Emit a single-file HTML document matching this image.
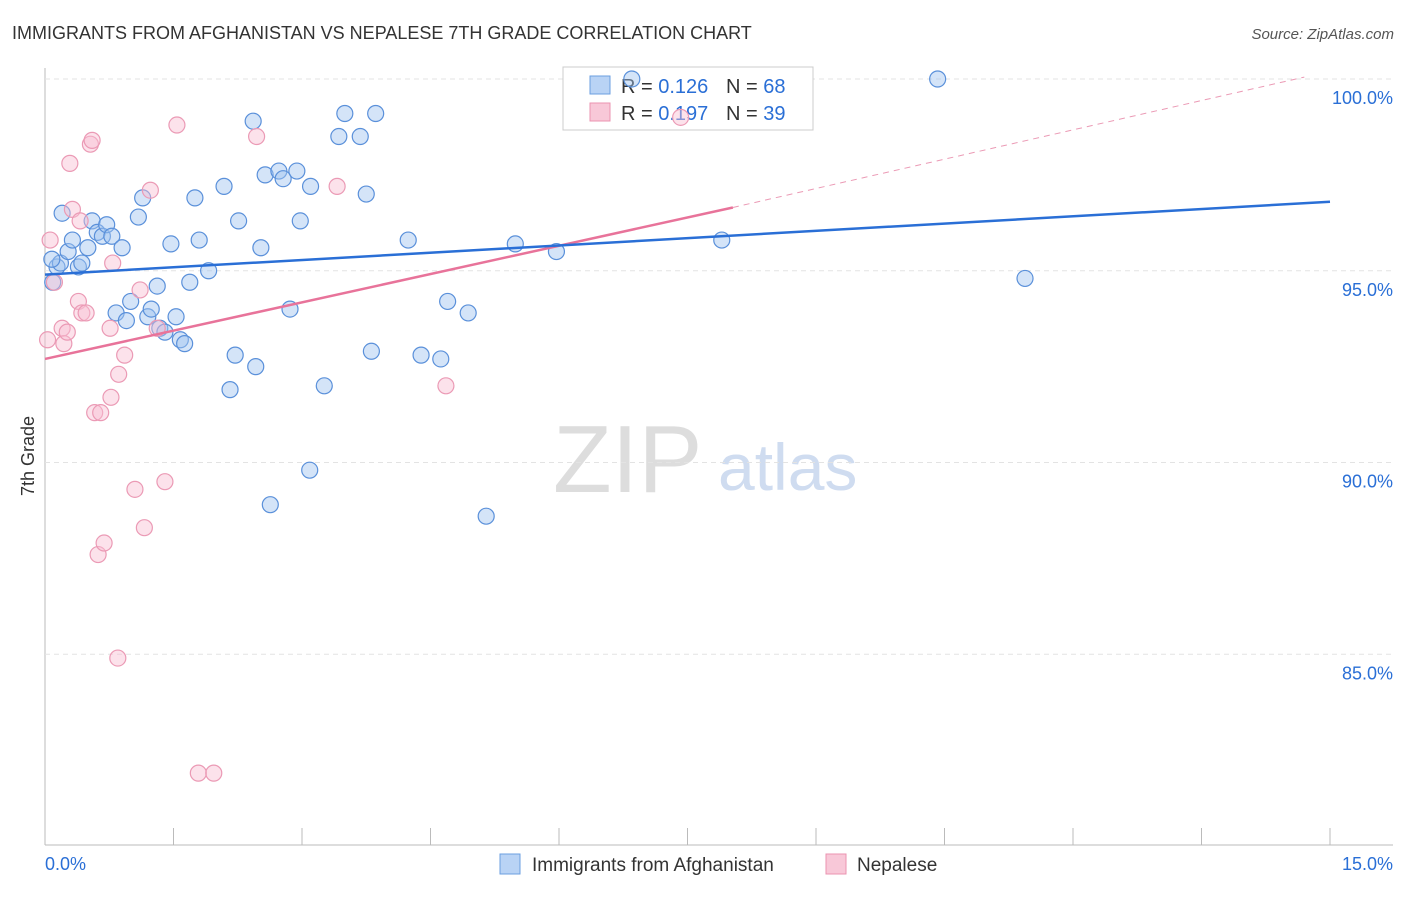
<!DOCTYPE html>
<html><head><meta charset="utf-8"><style>
body{margin:0;background:#fff;font-family:"Liberation Sans",sans-serif}
svg text{font-family:"Liberation Sans",sans-serif}
</style></head><body>
<svg id="c" width="1406" height="892">
<text x="12" y="39" font-size="18" fill="#333">IMMIGRANTS FROM AFGHANISTAN VS NEPALESE 7TH GRADE CORRELATION CHART</text>
<text x="1394" y="39" font-size="15" fill="#555" font-style="italic" text-anchor="end">Source: ZipAtlas.com</text>
<text x="553" y="492" font-size="96" fill="#ddd" font-family="Liberation Serif">ZIP</text>
<text x="718" y="490" font-size="66" fill="#cfdcf0">atlas</text>
<text x="34" y="456" font-size="18" fill="#333" transform="rotate(-90 34 456)" text-anchor="middle">7th Grade</text>
<g id="grid"></g>
<g>
<rect x="563" y="67" width="250" height="63" fill="#fff" stroke="#ccc"/>
<rect x="590" y="76" width="20" height="18" fill="#b9d3f5" stroke="#6b9fe0"/>
<rect x="590" y="103" width="20" height="18" fill="#f8c8d8" stroke="#eb93b0"/>
<text x="621" y="93" font-size="20" fill="#333">R = <tspan fill="#2a6fd6">0.126</tspan></text>
<text x="726" y="93" font-size="20" fill="#333">N = <tspan fill="#2a6fd6">68</tspan></text>
<text x="621" y="120" font-size="20" fill="#333">R = <tspan fill="#2a6fd6">0.197</tspan></text>
<text x="726" y="120" font-size="20" fill="#333">N = <tspan fill="#2a6fd6">39</tspan></text>
</g>
<g id="marks"></g>
<g>
<rect x="500" y="854" width="20" height="20" fill="#b9d3f5" stroke="#6b9fe0"/>
<text x="532" y="871" font-size="19" fill="#333">Immigrants from Afghanistan</text>
<rect x="826" y="854" width="20" height="20" fill="#f8c8d8" stroke="#eb93b0"/>
<text x="857" y="871" font-size="19" fill="#333">Nepalese</text>
</g>
</svg>
<script>
const xTicks=[0,1.5,3,4.5,6,7.5,9,10.5,12,13.5,15];
const yTicks=[85,90,95,100];
const yTickLabels=["85.0%","90.0%","95.0%","100.0%"];
const blueX=[0.09,0.14,0.18,0.08,0.2,0.27,0.32,0.39,0.43,0.5,0.55,0.61,0.67,0.72,0.78,0.9,0.83,0.95,1.0,1.09,1.14,1.2,1.24,1.31,1.34,1.4,1.47,1.53,1.58,1.63,1.69,1.75,1.8,1.91,2.09,2.22,2.16,2.26,2.43,2.46,2.52,2.57,2.63,2.73,2.78,2.86,2.94,2.98,3.1,3.09,3.26,3.43,3.5,3.68,3.75,3.81,3.86,4.24,4.39,4.62,4.7,4.94,5.15,5.49,5.97,6.85,7.9,10.42,11.44];
const blueY=[94.7,95.1,95.2,95.3,96.5,95.5,95.8,95.1,95.2,95.6,96.3,96.0,95.9,96.2,95.9,95.6,93.9,93.7,94.2,96.4,96.9,93.8,94.0,94.6,93.5,93.4,95.7,93.8,93.2,93.1,94.7,96.9,95.8,95.0,97.2,92.8,91.9,96.3,98.9,92.5,95.6,97.5,88.9,97.6,97.4,94.0,97.6,96.3,97.2,89.8,92.0,98.5,99.1,98.5,97.0,92.9,99.1,95.8,92.8,92.7,94.2,93.9,88.6,95.7,95.5,100.0,95.8,100.0,94.8];
const pinkX=[0.06,0.03,0.11,0.2,0.22,0.26,0.29,0.32,0.39,0.41,0.43,0.48,0.53,0.55,0.58,0.65,0.62,0.69,0.76,0.77,0.79,0.86,0.93,0.85,1.05,1.11,1.16,1.23,1.31,1.4,1.54,1.79,1.97,2.47,3.41,4.68,7.42];
const pinkY=[95.8,93.2,94.7,93.5,93.1,93.4,97.8,96.6,94.2,96.3,93.9,93.9,98.3,98.4,91.3,91.3,87.6,87.9,93.5,91.7,95.2,92.3,92.8,84.9,89.3,94.5,88.3,97.1,93.5,89.5,98.8,81.9,81.9,98.5,97.2,92.0,99.0];
const blueLine=[[0,94.9],[15,96.8]];
const pinkLine=[[0,92.7],[8.03,96.65]];
const pinkDash=[[8.03,96.65],[14.7,100.05]];
const X=v=>45+v*(1285/15), Y=v=>79+(100-v)*38.35;
const NS="http://www.w3.org/2000/svg";
function mk(t,a,p){const e=document.createElementNS(NS,t);for(const k in a)e.setAttribute(k,a[k]);p.appendChild(e);return e;}
const g=document.getElementById('grid'), m=document.getElementById('marks');
let e=mk('line',{x1:45,y1:68,x2:45,y2:845,stroke:'#bbb'},g);


e=mk('line',{x1:45,y1:845,x2:1393,y2:845,stroke:'#bbb'},g);


yTicks.forEach((v,i)=>{
 e=mk('line',{x1:45,y1:Y(v),x2:1393,y2:Y(v),stroke:'#e3e3e3','stroke-dasharray':'5,4'},g);
 
 
 e=mk('text',{x:1393,y:Y(v)+25,'font-size':18,fill:'#2a6fd6','text-anchor':'end'},g);
 e.textContent=yTickLabels[i];
 
 
});
xTicks.forEach(v=>{
 e=mk('line',{x1:X(v),y1:828,x2:X(v),y2:845,stroke:'#bbb'},g);
 
 
});
e=mk('text',{x:45,y:870,'font-size':18,fill:'#2a6fd6'},g);e.textContent='0.0%';


e=mk('text',{x:1393,y:870,'font-size':18,fill:'#2a6fd6','text-anchor':'end'},g);e.textContent='15.0%';


blueX.forEach((v,i)=>{
 e=mk('circle',{cx:X(v),cy:Y(blueY[i]),r:8,fill:'rgba(160,196,240,0.45)',stroke:'#5a90da','stroke-width':1.2},m);
 
 
});
pinkX.forEach((v,i)=>{
 e=mk('circle',{cx:X(v),cy:Y(pinkY[i]),r:8,fill:'rgba(248,190,210,0.45)',stroke:'#eb9ab5','stroke-width':1.2},m);
 
 
});
e=mk('line',{x1:X(pinkDash[0][0]),y1:Y(pinkDash[0][1]),x2:X(pinkDash[1][0]),y2:Y(pinkDash[1][1]),stroke:'#eb9ab5','stroke-dasharray':'6,5','stroke-width':1},m);


e=mk('line',{x1:X(pinkLine[0][0]),y1:Y(pinkLine[0][1]),x2:X(pinkLine[1][0]),y2:Y(pinkLine[1][1]),stroke:'#e8739a','stroke-width':2.5},m);


e=mk('line',{x1:X(blueLine[0][0]),y1:Y(blueLine[0][1]),x2:X(blueLine[1][0]),y2:Y(blueLine[1][1]),stroke:'#2a6fd6','stroke-width':2.5},m);


</script>
</body></html>
